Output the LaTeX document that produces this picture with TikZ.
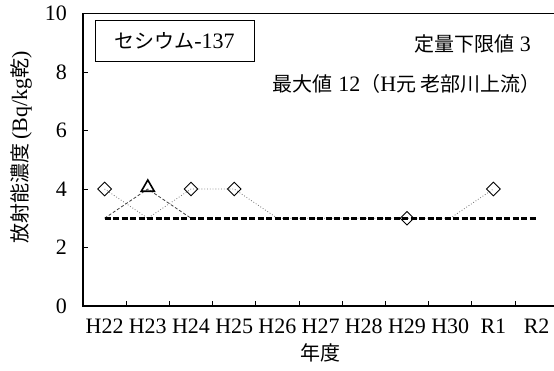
\documentclass[tikz,border=0pt]{standalone}
\usepackage{fontspec}
\setmainfont[Scale=1.1]{Liberation Serif}
\newfontfamily\jp{Noto Sans CJK JP}
\usetikzlibrary{shapes.geometric}
\tikzset{
  axisline/.style={line width=1.5pt,black},
  frameline/.style={line width=0.8pt,black},
  tickline/.style={line width=0.8pt,black},
  dseries/.style={dotted,line width=0.8pt,black!55},
  tseries/.style={dash pattern=on 3pt off 2pt,line width=0.8pt,black!75},
  limitline/.style={dash pattern=on 6pt off 2.5pt,line width=2.6pt,black},
  dmark/.style={draw,diamond,inner sep=0pt,minimum width=14pt,minimum height=14pt,line width=0.9pt},
  tmark/.style={draw,regular polygon,regular polygon sides=3,inner sep=0pt,minimum size=15pt,line width=1.6pt},
  lbl/.style={inner sep=0pt},
}
\begin{document}
\begin{tikzpicture}[x=1pt,y=1pt,font=\fontsize{20}{24}\selectfont]
\useasboundingbox (0,0) rectangle (554,370);
% category centres
\foreach \i in {0,...,10}{
  \pgfmathsetmacro{\cx}{83+(\i+0.5)*43.2}
  \coordinate (c\i) at (\cx,64);
}
% axes and frame
\coordinate (o) at (83,64);
\coordinate (tl) at (83,356.5);
\coordinate (tr) at (556,356.5);
\coordinate (br) at (556,64);
\draw[frameline] (tl) -- (tr);
\draw[axisline] (tl) -- (o) -- (br);
% y ticks and labels
\foreach \v in {0,2,4,6,8,10}{
  \pgfmathsetmacro{\yy}{64+29.25*\v}
  \draw[tickline] (83,\yy) -- (88,\yy);
  \node[lbl,anchor=east] (y\v) at (67,\yy) {\v};
}
% x ticks
\foreach \k in {1,...,10}{
  \pgfmathsetmacro{\xx}{83+43.2*\k}
  \draw[tickline] (\xx,64) -- (\xx,69);
}
% x labels
\foreach \i/\t in {0/H22,1/H23,2/H24,3/H25,4/H26,5/H27,6/H28,7/H29,8/H30,9/R1,10/R2}{
  \node[lbl] (x\i) at ([yshift=-20pt]c\i) {\t};
}
\node[lbl] (xt) at (320.6,17) {\jp 年度};
\node[lbl,rotate=90] (yt) at (21,223) {\jp 放射能濃度\rmfamily\,(Bq/kg\jp 乾\rmfamily)};
% title box and notes
\node[draw,line width=0.8pt,minimum width=159pt,minimum height=41pt] (title) at (174.5,329.5) {\jp セシウム\rmfamily -137};
\node[lbl,anchor=east] (lim) at (531,326) {\jp 定量下限値\rmfamily\ 3};
\node[lbl,anchor=east] (mx) at (541,286) {\jp 最大値\rmfamily\ 12\jp （\rmfamily H\jp 元 老部川上流）};
% data points
\foreach \i/\v in {0/4,1/3,2/4,3/4,4/3,7/3,8/3,9/4}{
  \coordinate (d\i) at ([yshift={29.25*\v pt}]c\i);
}
\coordinate (t0) at ([yshift=87.75pt]c0);
\coordinate (t1) at ([yshift=117pt]c1);
\coordinate (t2) at ([yshift=87.75pt]c2);
\coordinate (l0) at ([yshift=87.75pt]c0);
\coordinate (l1) at ([yshift=87.75pt]c10);
% series lines
\draw[dseries] (d0) -- (d1) -- (d2) -- (d3) -- (d4) -- (d7) -- (d8) -- (d9);
\draw[tseries] (t0) -- (t1) -- (t2);
\draw[limitline] (l0) -- (l1);
% markers
\foreach \i in {0,2,3,7,9}{
  \node[dmark] (md\i) at (d\i) {};
}
\node[tmark] (mt1) at ([yshift=1.5pt]t1) {};
\end{tikzpicture}
\end{document}
